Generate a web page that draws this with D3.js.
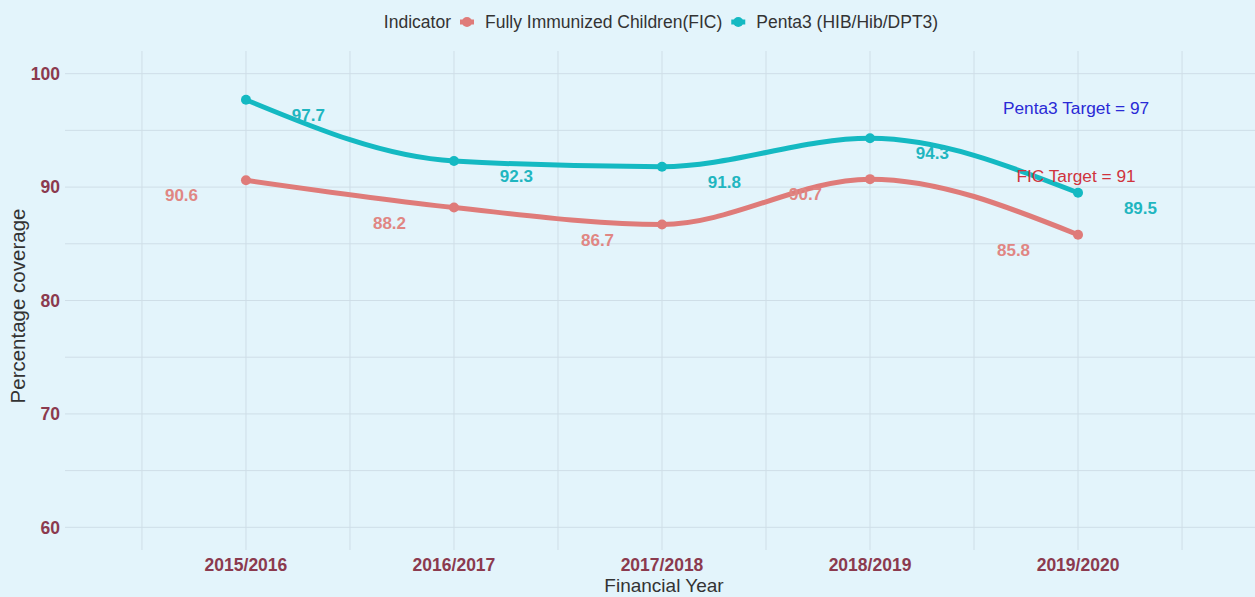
<!DOCTYPE html>
<html lang="en">
<head>
  <meta charset="UTF-8">
  <title>Immunization coverage</title>
  <script src="https://d3js.org/d3.v7.min.js"></script>
  <style>
    body { margin: 0; background: #e3f4fb; }
    svg { display: block; font-family: "Liberation Sans", Arial, sans-serif; }
  </style>
</head>
<body>
<script>
// data
const years = ["2015/2016", "2016/2017", "2017/2018", "2018/2019", "2019/2020"];
const ficValues = [90.6, 88.2, 86.7, 90.7, 85.8];
const pentaValues = [97.7, 92.3, 91.8, 94.3, 89.5];
const seriesNames = ["Fully Immunized Children(FIC)", "Penta3 (HIB/Hib/DPT3)"];
const yTicks = [60, 70, 80, 90, 100];
const targets = [
  { label: "Penta3 Target = 97", value: 97, color: "#2a2ad6" },
  { label: "FIC Target = 91", value: 91, color: "#d0333d" }
];

const width = 1255, height = 597;
const margin = { top: 51, right: -4, bottom: 47, left: 65 };
const colors = ["#df7b79", "#14b9c2"];
const labelColors = ["#e08683", "#1fb6c0"];
const labelNudge = [-0.31, 0.30]; // in category steps
const tickColor = "#8b3a4e";
const gridColor = "#cfdee7";

const svg = d3.select("body").append("svg")
    .attr("width", width)
    .attr("height", height);

const x = d3.scalePoint()
    .domain(years)
    .range([margin.left, width - margin.right])
    .padding(0.87);

const y = d3.scaleLinear()
    .domain([58, 102])
    .range([height - margin.bottom, margin.top]);

const step = x.step();

// grid
const grid = svg.append("g").attr("stroke", gridColor).attr("stroke-width", 1);
grid.selectAll(".h").data(d3.range(60, 101, 5)).join("line")
    .attr("x1", margin.left).attr("x2", width)
    .attr("y1", d => y(d)).attr("y2", d => y(d));
const vMinor = d3.range(years.length + 1).map(i => x(years[0]) + (i - 0.5) * step);
grid.selectAll(".vm").data(vMinor).join("line")
    .attr("x1", d => d).attr("x2", d => d)
    .attr("y1", margin.top).attr("y2", height - margin.bottom);
grid.selectAll(".v").data(years).join("line")
    .attr("x1", d => x(d)).attr("x2", d => x(d))
    .attr("y1", margin.top).attr("y2", height - margin.bottom);

// axes text
svg.append("g").selectAll("text").data(yTicks).join("text")
    .attr("x", margin.left - 5)
    .attr("y", d => y(d))
    .attr("dy", "0.36em")
    .attr("text-anchor", "end")
    .attr("fill", tickColor)
    .attr("font-weight", "bold")
    .attr("font-size", 17.5)
    .text(d => d);

svg.append("g").selectAll("text").data(years).join("text")
    .attr("x", d => x(d))
    .attr("y", height - margin.bottom + 15)
    .attr("dy", "0.36em")
    .attr("text-anchor", "middle")
    .attr("fill", tickColor)
    .attr("font-weight", "bold")
    .attr("font-size", 17.5)
    .text(d => d);

svg.append("text")
    .attr("x", x(years[2]) + 2)
    .attr("y", 585)
    .attr("dy", "0.36em")
    .attr("text-anchor", "middle")
    .attr("fill", "#333")
    .attr("font-size", 19)
    .text("Financial Year");

svg.append("text")
    .attr("transform", `translate(18,306) rotate(-90)`)
    .attr("dy", "0.36em")
    .attr("text-anchor", "middle")
    .attr("fill", "#333")
    .attr("font-size", 20.5)
    .text("Percentage coverage");

// lines, points, labels
const series = [ficValues, pentaValues];

const line = d3.line()
    .x((d, i) => x(years[i]))
    .y(d => y(d))
    .curve(d3.curveMonotoneX);

series.forEach((values, k) => {
  svg.append("path")
      .attr("d", line(values))
      .attr("fill", "none")
      .attr("stroke", colors[k])
      .attr("stroke-width", 5)
      .attr("stroke-linecap", "round");

  svg.append("g").selectAll("circle").data(values).join("circle")
      .attr("cx", (d, i) => x(years[i]))
      .attr("cy", d => y(d))
      .attr("r", 5)
      .attr("fill", colors[k]);
});

series.forEach((values, k) => {
  svg.append("g").selectAll("text").data(values).join("text")
      .attr("x", (d, i) => x(years[i]) + labelNudge[k] * step)
      .attr("y", d => y(d) + 15)
      .attr("dy", "0.36em")
      .attr("text-anchor", "middle")
      .attr("fill", labelColors[k])
      .attr("font-weight", "bold")
      .attr("font-size", 17)
      .text(d => d.toFixed(1));
});

// target annotations
svg.append("g").selectAll("text").data(targets).join("text")
    .attr("x", x(years[4]) - 2)
    .attr("y", d => y(d.value))
    .attr("dy", "0.36em")
    .attr("text-anchor", "middle")
    .attr("fill", d => d.color)
    .attr("font-size", 17.3)
    .text(d => d.label);

// legend
const legend = svg.append("g").attr("font-size", 17.5).attr("fill", "#333");
let lx = 0;
const title = legend.append("text").attr("x", lx).attr("y", 22).attr("dy", "0.36em").text("Indicator");
lx += title.node().getComputedTextLength() + 16;
seriesNames.forEach((name, k) => {
  legend.append("line")
      .attr("x1", lx - 7).attr("x2", lx + 7)
      .attr("y1", 22).attr("y2", 22)
      .attr("stroke", colors[k]).attr("stroke-width", 5);
  legend.append("circle")
      .attr("cx", lx).attr("cy", 22).attr("r", 5)
      .attr("fill", colors[k]);
  lx += 18;
  const t = legend.append("text").attr("x", lx).attr("y", 22).attr("dy", "0.36em").text(name);
  lx += t.node().getComputedTextLength() + 16;
});
const legendWidth = lx - 16;
legend.attr("transform", `translate(${661 - legendWidth / 2},0)`);
</script>
</body>
</html>
